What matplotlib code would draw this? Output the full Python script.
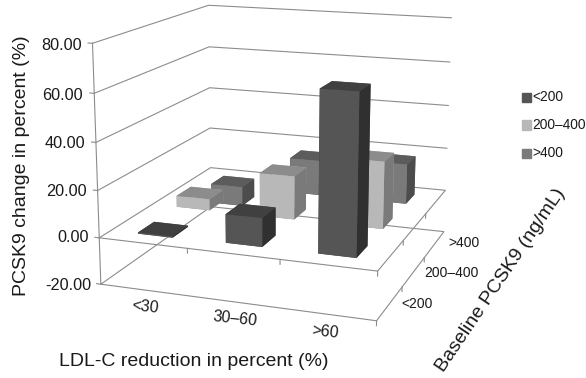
import numpy as np
import matplotlib
matplotlib.use('Agg')
import matplotlib.pyplot as plt

reduction = ['<30', '30–60', '>60']
baseline = ['<200', '200–400', '>400']
values_low = [-0.5, 12, 66]
values_mid = [5, 19, 29]
values_high = [-9, 16, 18]
z_ticks = [-20, 0, 20, 40, 60, 80]

W, H = 586, 378
plt.rcParams['font.family'] = ['Liberation Sans', 'DejaVu Sans']
fig = plt.figure(figsize=(W/100, H/100), dpi=100)
ax = fig.add_axes([58.1/W, 7.3/H, 438.5/W, 438.5/H], projection='3d')
ax.set_xlim(0, 3); ax.set_ylim(0, 3); ax.set_zlim(-20, 80)
ax.view_init(14.056, -70.466, -0.132)
ax.set_proj_type('persp', focal_length=0.536)
ax.set_box_aspect((1, 0.998, 0.853))
ax.set_axis_off()
ax.computed_zorder = False
ax.patch.set_alpha(0)

gray = '#8c8c8c'
def line(xs, ys, zs):
    ax.plot(xs, ys, zs, color=gray, lw=0.8, zorder=1, clip_on=False)
for z in z_ticks:
    if z <= 0:
        line([0,3,3,0,0],[0,0,3,3,0],[z]*5)
    else:
        line([0,0,3],[0,3,3],[z]*3)
    line([0,-0.05],[0,0],[z,z])
line([0,0],[0,0],[-20,80])
for k in (1,2,3):
    line([k,k],[0,0],[0,-2])
line([3,3],[0,0],[-20,-22])
for k in (1,2):
    line([3,3],[k,k],[0,-2]); line([3,3],[k,k],[-20,-22])

face = {0: ('#555555','#404040','#303030'), 1: ('#b8b8b8','#8c8c8c','#7a7a7a'), 2: ('#7a7a7a','#5c5c5c','#4c4c4c')}
series = [values_low, values_mid, values_high]
width, depth = 0.40, 0.40
zo = 10
for j in (2, 1, 0):
    fr, tp, sd = face[j]
    for i in range(3):
        cols = [tp, tp, fr, fr, sd, sd]
        ax.bar3d(i+0.5-width/2, j+0.5-depth/2, 0, width, depth, series[j][i], color=cols, shade=False, zorder=zo, linewidth=0)
        zo += 1

def t(x, y, s, size=10, **kw):
    kw.setdefault('ha','center'); kw.setdefault('va','center')
    fig.text(x/W, 1-y/H, s, fontsize=size, color='#1a1a1a', **kw)

for z, x, y in zip([80,60,40,20,0,-20],[82,83,85,87,89,91],[46,96,144,192,237,285]):
    t(x, y, f'{z:.2f}', size=11.7, ha='right')
t(145, 307, reduction[0], rotation=-6, size=11.5)
t(235, 319, reduction[1], rotation=-6, size=11.5)
t(325, 332, reduction[2], rotation=-6, size=11.5)
t(417, 304, baseline[0], size=10)
t(451, 273, baseline[1], size=10)
t(464, 243, baseline[2], size=10)
t(193.5, 362, 'LDL-C reduction in percent (%)', size=14)
t(22, 166, 'PCSK9 change in percent (%)', size=14, rotation=90)
t(501, 280, 'Baseline PCSK9 (ng/mL)', size=14, rotation=56, rotation_mode='anchor')
for name, y, c in zip(baseline, [97,125,153], ['#555555','#b8b8b8','#7a7a7a']):
    fig.patches.append(plt.Rectangle((522/W, 1-(y+4.5)/H), 9/W, 9/H, transform=fig.transFigure, color=c))
    t(532.5, y, name, size=9.9, ha='left')
fig.savefig('out.png', dpi=100)
